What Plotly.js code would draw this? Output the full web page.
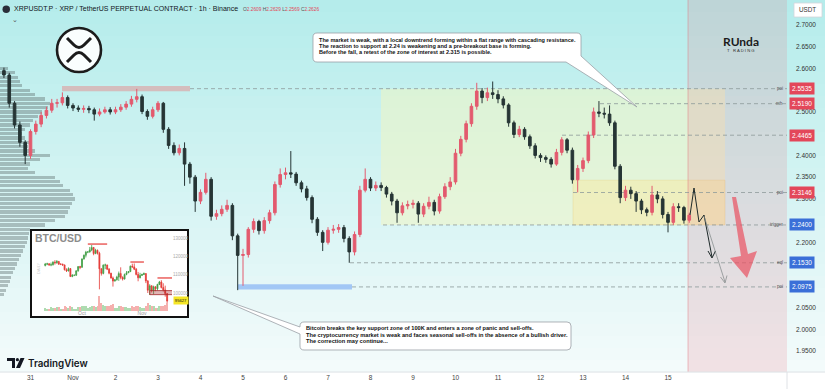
<!DOCTYPE html>
<html><head><meta charset="utf-8">
<script src="https://cdn.plot.ly/plotly-3.0.1.min.js"></script>
<style>html,body{margin:0;padding:0;background:#fff;overflow:hidden}#chart{width:825px;height:389px}</style>
</head><body><div id="chart"></div>
<script>
// ---------------- DATA ----------------
// XRPUSDT.P, 3-hour aggregation of the 1h chart, first candle 2025-10-30 09:00
const xrpStart = '2025-10-30T09:00:00Z';
const xrpStepHours = 3;
const xrpOpen = [2.595,2.585,2.520,2.470,2.430,2.400,2.455,2.472,2.492,2.504,
2.520,2.521,2.533,2.515,2.509,2.506,2.508,2.505,2.495,2.500,
2.505,2.500,2.505,2.511,2.518,2.529,2.535,2.501,2.490,2.505,
2.520,2.460,2.423,2.406,2.416,2.380,2.350,2.295,2.315,2.345,
2.260,2.266,2.276,2.285,2.215,2.170,2.172,2.230,2.248,2.227,
2.250,2.268,2.333,2.356,2.360,2.357,2.337,2.323,2.303,2.253,
2.223,2.200,2.228,2.230,2.234,2.209,2.178,2.218,2.320,2.345,
2.325,2.331,2.326,2.311,2.295,2.268,2.284,2.287,2.290,2.265,
2.283,2.292,2.272,2.305,2.328,2.339,2.405,2.437,2.473,2.513,
2.548,2.533,2.544,2.540,2.530,2.516,2.475,2.448,2.460,2.443,
2.422,2.400,2.395,2.391,2.380,2.407,2.436,2.412,2.344,2.370,
2.388,2.447,2.500,2.497,2.495,2.475,2.375,2.303,2.320,2.312,
2.295,2.275,2.269,2.309,2.300,2.264,2.246,2.282,2.280,2.251];
const xrpHigh = [2.602,2.590,2.525,2.478,2.435,2.460,2.480,2.500,2.512,2.530,
2.530,2.545,2.538,2.520,2.515,2.515,2.514,2.510,2.508,2.512,
2.511,2.512,2.518,2.525,2.537,2.553,2.540,2.506,2.512,2.525,
2.523,2.465,2.430,2.425,2.430,2.385,2.355,2.322,2.360,2.350,
2.275,2.285,2.298,2.290,2.220,2.185,2.235,2.255,2.252,2.258,
2.275,2.340,2.370,2.372,2.410,2.362,2.342,2.330,2.308,2.258,
2.228,2.235,2.240,2.242,2.240,2.214,2.225,2.330,2.370,2.350,
2.340,2.338,2.330,2.316,2.300,2.292,2.296,2.298,2.295,2.290,
2.305,2.298,2.312,2.336,2.350,2.415,2.445,2.480,2.520,2.567,
2.555,2.556,2.570,2.550,2.536,2.520,2.480,2.468,2.465,2.448,
2.428,2.405,2.400,2.396,2.415,2.442,2.440,2.418,2.378,2.395,
2.455,2.510,2.525,2.510,2.515,2.480,2.380,2.330,2.328,2.318,
2.300,2.280,2.330,2.318,2.306,2.270,2.290,2.290,2.284,2.268];
const xrpLow = [2.578,2.510,2.462,2.420,2.380,2.392,2.448,2.465,2.485,2.498,
2.510,2.515,2.508,2.502,2.500,2.498,2.497,2.480,2.490,2.496,
2.494,2.495,2.500,2.505,2.512,2.522,2.495,2.482,2.485,2.500,
2.452,2.415,2.400,2.400,2.330,2.335,2.270,2.288,2.310,2.250,
2.252,2.260,2.270,2.205,2.090,2.100,2.165,2.222,2.218,2.220,
2.243,2.262,2.326,2.345,2.348,2.330,2.315,2.296,2.244,2.215,
2.180,2.195,2.220,2.222,2.200,2.153,2.170,2.212,2.315,2.318,
2.318,2.318,2.303,2.285,2.245,2.262,2.276,2.278,2.245,2.258,
2.276,2.262,2.266,2.300,2.320,2.333,2.398,2.430,2.466,2.505,
2.520,2.525,2.530,2.520,2.508,2.466,2.440,2.442,2.436,2.415,
2.393,2.385,2.383,2.372,2.376,2.400,2.405,2.335,2.315,2.362,
2.382,2.440,2.488,2.485,2.468,2.368,2.290,2.295,2.300,2.270,
2.265,2.260,2.262,2.290,2.255,2.223,2.240,2.270,2.243,2.245];
const xrpClose = [2.585,2.520,2.470,2.430,2.400,2.455,2.472,2.492,2.504,2.520,
2.521,2.533,2.515,2.509,2.506,2.508,2.505,2.495,2.500,2.505,
2.500,2.505,2.511,2.518,2.529,2.535,2.501,2.490,2.505,2.520,
2.460,2.423,2.406,2.416,2.380,2.350,2.295,2.315,2.345,2.260,
2.266,2.276,2.285,2.215,2.170,2.172,2.230,2.248,2.227,2.250,
2.268,2.333,2.356,2.360,2.357,2.337,2.323,2.303,2.253,2.223,
2.200,2.228,2.230,2.234,2.209,2.178,2.218,2.320,2.345,2.325,
2.331,2.326,2.311,2.295,2.268,2.284,2.287,2.290,2.265,2.283,
2.292,2.272,2.305,2.328,2.339,2.405,2.437,2.473,2.513,2.548,
2.533,2.544,2.540,2.530,2.516,2.475,2.448,2.460,2.443,2.422,
2.400,2.395,2.391,2.380,2.407,2.436,2.412,2.344,2.370,2.388,
2.447,2.500,2.497,2.495,2.475,2.375,2.303,2.320,2.312,2.295,
2.275,2.269,2.309,2.300,2.264,2.246,2.282,2.280,2.251,2.2626];

// Volume profile (left side)
const vpPrice = [2.60,2.59,2.58,2.57,2.56,2.55,2.54,2.53,2.52,2.51,2.50,2.49,2.48,2.47,2.46,2.45,2.44,2.43,2.42,2.41,2.40,2.39,2.38,2.37,2.36,2.35,2.34,2.33,2.32,2.31,2.30,2.29,2.28,2.27,2.26,2.25,2.24,2.23,2.22,2.21,2.20,2.19,2.18,2.17,2.16,2.15,2.14,2.13,2.12,2.11,2.10,2.09,2.08];
const vpVolume = [8,15,18,20,22,30,35,45,50,48,42,38,33,30,25,22,25,30,28,35,50,40,30,28,35,55,60,63,70,73,75,72,70,68,65,55,45,30,29,28,27,25,23,21,19,17,15,13,11,10,8,6,4];

// Key levels
const levels = [2.5535, 2.5190, 2.4465, 2.3146, 2.2400, 2.1530, 2.0975];
const levelTags = ['poi', 'mh', '', 'poi', 'trigger', 'eql', 'poi'];
const greenZone = [2.2400, 2.5535];
const yellowZone = [2.2400, 2.3430];

// Axis labels (ticks hidden behind level tags in the reference are left out)
const priceTicks = [1.95,2.00,2.05,2.20,2.30,2.35,2.40,2.50,2.60,2.65,2.70];
const dayTicks = ['2025-10-31','2025-11-01','2025-11-02','2025-11-03','2025-11-04','2025-11-05','2025-11-06','2025-11-07','2025-11-08','2025-11-09','2025-11-10','2025-11-11','2025-11-12','2025-11-13','2025-11-14','2025-11-15'];
const dayLabels = ['31','Nov','2','3','4','5','6','7','8','9','10','11','12','13','14','15'];

// BTC/USD inset, daily, thousands of USD, from 2025-09-12
const btcStart = '2025-09-12T00:00:00Z';
const btcOpen = [115.0,115.8,115.9,115.3,115.4,116.8,116.5,117.2,115.7,115.7,115.3,112.7,112.0,113.3,109.0,109.7,109.7,112.1,114.4,
114.0,118.6,120.6,122.3,122.4,123.5,124.8,121.5,123.3,121.7,113.2,110.7,115.2,115.3,113.0,110.8,108.2,106.5,107.2,108.7,
110.6,108.5,107.6,110.1,111.0,111.7,114.6,114.2,113.0,110.1,108.3,109.6,110.1,110.6,106.6,101.5,103.9,101.3,103.4,102.3,
104.7,106.0,103.0,101.7,99.7];
const btcHigh = [116.4,116.5,116.3,116.6,117.3,117.9,118.0,117.5,116.2,116.0,115.5,113.5,114.0,113.6,110.3,110.0,112.3,114.6,114.8,
118.8,121.0,123.0,122.9,125.1,126.2,125.1,124.1,123.7,122.5,113.5,115.6,116.0,115.4,113.6,111.0,109.0,107.5,109.4,111.7,
114.0,109.1,110.6,112.0,111.9,115.0,116.0,116.1,113.6,111.5,111.0,110.5,111.2,110.8,107.0,104.8,104.2,104.0,103.6,105.0,
106.6,107.0,105.3,104.0,99.8];
const btcLow = [114.5,115.2,114.9,114.6,115.0,115.5,116.0,115.4,115.2,114.8,112.3,111.5,111.8,108.7,108.6,109.2,109.3,111.6,113.0,
113.9,118.2,119.4,121.7,122.0,122.8,120.6,121.2,121.0,102.0,109.5,110.2,113.0,112.5,110.2,107.8,103.5,106.3,106.8,106.6,
107.5,106.8,107.4,109.7,110.9,111.4,113.8,112.5,109.6,106.4,108.0,109.3,109.8,105.4,100.0,98.9,100.3,99.3,101.0,101.4,
104.3,102.5,100.8,98.0,94.6];
const btcClose = [115.8,115.9,115.3,115.4,116.8,116.5,117.2,115.7,115.7,115.3,112.7,112.0,113.3,109.0,109.7,109.7,112.1,114.4,114.0,
118.6,120.6,122.3,122.4,123.5,124.8,121.5,123.3,121.7,113.2,110.7,115.2,115.3,113.0,110.8,108.2,106.5,107.2,108.7,110.6,
108.5,107.6,110.1,111.0,111.7,114.6,114.2,113.0,110.1,108.3,109.6,110.1,110.6,106.6,101.5,103.9,101.3,103.4,102.3,104.7,
106.0,103.0,101.7,99.7,95.6];
const btcVolume = [1.5,1.2,1.0,1.8,1.6,1.7,1.8,1.9,1.1,1.0,2.4,1.8,1.7,2.5,2.0,1.2,1.1,1.9,2.0,2.6,
2.5,2.4,1.5,2.2,2.6,2.5,2.1,2.3,7.5,4.0,2.8,2.6,2.5,2.7,3.0,3.4,1.6,1.5,2.4,2.6,
2.2,2.2,1.8,1.3,1.4,2.4,2.1,2.3,2.6,2.0,1.3,1.4,2.7,3.9,3.2,2.7,2.6,1.4,1.5,2.5,
2.4,2.6,3.2,3.8];
const btcTicks = [90,100,110,120,130];
const btcTickText = ['90000','100000','110000','120000','130000'];
const btcMonthTicks = ['2025-10-01','2025-11-01'];
const btcMonthLabels = ['Oct','Nov'];
const btcLast = '95627';
const btcLines = [[126.7,'2025-10-04','2025-10-14'],[116.9,'2025-10-26','2025-11-02'],[108.2,'2025-11-09','2025-11-25']];
const btcZone = [99.1, 101.3, '2025-11-05'];

// ---------------- HELPERS ----------------
const W = 787, H = 372;                 // plot area in px
const px = x => x / W;
const py = y => 1 - y / H;
const fmt = ms => new Date(ms).toISOString().slice(0,19).replace('T',' ');
const mainDate = X => fmt(Date.UTC(2025,10,1) + (X - 73) / 42.5 * 864e5);
const insetDate = X => fmt(Date.UTC(2025,9,1) + (X - 82) / 1.935 * 864e5);
function P(d){ let i = 0; return d.replace(/-?\d+(\.\d+)?/g, m => { const v = +m; const r = (i % 2 === 0) ? v / W : 1 - v / H; i++; return r.toFixed(5); }); }

const xrpTimes = xrpClose.map((_, i) => fmt(Date.parse(xrpStart) + i * xrpStepHours * 3600e3));
const btcTimes = btcClose.map((_, i) => fmt(Date.parse(btcStart) + i * 864e5));
const btcVolColors = btcClose.map((c, i) => c >= btcOpen[i] ? 'rgba(76,175,80,0.45)' : 'rgba(229,57,53,0.4)');

// ---------------- TRACES ----------------
const traces = [
  { type:'bar', orientation:'h', x: vpVolume, y: vpPrice, xaxis:'x', yaxis:'y', width:0.0075,
    marker:{color:'rgba(90,105,105,0.40)', line:{width:0}}, hoverinfo:'skip' },
  { type:'candlestick', x: xrpTimes, open: xrpOpen, high: xrpHigh, low: xrpLow, close: xrpClose,
    xaxis:'x2', yaxis:'y', whiskerwidth:0,
    increasing:{line:{color:'#e35a6e', width:1}, fillcolor:'#e35a6e'},
    decreasing:{line:{color:'#263535', width:1}, fillcolor:'#263535'}, hoverinfo:'skip' },
  { type:'candlestick', x: btcTimes, open: btcOpen, high: btcHigh, low: btcLow, close: btcClose,
    xaxis:'x3', yaxis:'y3', whiskerwidth:0,
    increasing:{line:{color:'#43a047', width:0.8}, fillcolor:'#43a047'},
    decreasing:{line:{color:'#e53935', width:0.8}, fillcolor:'#e53935'}, hoverinfo:'skip' },
  { type:'bar', x: btcTimes, y: btcVolume, xaxis:'x3', yaxis:'y4', marker:{color: btcVolColors}, hoverinfo:'skip' }
];

// ---------------- SHAPES ----------------
const shapes = [];
const topC = [180,236,235], botC = [244,251,251];
const N = 31;
for (let k = 0; k < N; k++) {
  const t = (k + 0.5) / N;
  const c = topC.map((v, j) => Math.round(v + (botC[j] - v) * t));
  shapes.push({type:'rect', xref:'paper', yref:'paper', x0:0, x1:825/W, y0:py((k+1)*H/N + 0.5), y1:py(k*H/N),
    fillcolor:`rgb(${c[0]},${c[1]},${c[2]})`, line:{width:0}, layer:'below'});
}
// BTC inset background
shapes.push({type:'rect', xref:'paper', yref:'paper', x0:px(31), x1:px(188), y0:py(317), y1:py(230), fillcolor:'#ffffff', line:{color:'#111', width:2}, layer:'below'});
// zones
shapes.push({type:'rect', xref:'paper', yref:'y', x0:px(381), x1:px(725), y0:greenZone[0], y1:greenZone[1], fillcolor:'rgba(244,246,192,0.5)', line:{width:0}, layer:'below'});
shapes.push({type:'rect', xref:'paper', yref:'y', x0:px(573), x1:px(725), y0:yellowZone[0], y1:yellowZone[1], fillcolor:'rgba(255,228,140,0.35)', line:{color:'rgba(230,200,120,0.5)', width:0.6}, layer:'below'});
shapes.push({type:'rect', xref:'paper', yref:'paper', x0:px(688), x1:1, y0:0, y1:1, fillcolor:'rgba(235,110,125,0.18)', line:{width:0}, layer:'below'});
shapes.push({type:'line', xref:'paper', yref:'paper', x0:px(688), x1:px(688), y0:0, y1:1, line:{color:'rgba(225,110,120,0.45)', width:1}, layer:'below'});
// highlight bars
shapes.push({type:'rect', xref:'paper', yref:'y', x0:px(62), x1:px(190), y0:levels[0]-0.006, y1:levels[0]+0.006, fillcolor:'rgba(215,180,180,0.85)', line:{width:0}, layer:'below'});
shapes.push({type:'rect', xref:'paper', yref:'y', x0:px(238), x1:px(352), y0:levels[6]-0.006, y1:levels[6]+0.006, fillcolor:'rgba(150,190,245,0.85)', line:{width:0}, layer:'below'});
// dashed levels
const levelStartPx = [190, 600, 562, 573, 383, 350, 352];
levels.forEach((lv, i) => shapes.push({type:'line', xref:'paper', yref:'y', x0:px(levelStartPx[i]), x1:1, y0:lv, y1:lv,
  line:{color:'#8d9999', width:0.8, dash:'4px,3px'}, layer:'below'}));
// x-axis strip border
shapes.push({type:'line', xref:'paper', yref:'paper', x0:0, x1:825/W, y0:0, y1:0, line:{color:'#dfe2e6', width:1}, layer:'above'});
shapes.push({type:'line', xref:'paper', yref:'paper', x0:1, x1:1, y0:0, y1:py(389), line:{color:'#dfe2e6', width:1}, layer:'above'});
// inset BTC lines
btcLines.forEach(l => shapes.push({type:'line', xref:'x3', yref:'y3', x0:l[1], x1:l[2], y0:l[0], y1:l[0], line:{color:'#e53935', width:1.2}}));
shapes.push({type:'rect', xref:'x3', yref:'y3', x0:btcZone[2], x1:'2025-11-30', y0:btcZone[0], y1:btcZone[1], fillcolor:'rgba(170,40,40,0.35)', line:{color:'#a52a2a', width:0.8}});
// callouts
shapes.push({type:'path', xref:'paper', yref:'paper', layer:'above', fillcolor:'#ffffff', line:{color:'#9aa0a6', width:0.8},
  path:P('M317,33 L577,33 Q581,33 581,37 L581,56 L637,107 L566,62 L317,62 Q313,62 313,58 L313,37 Q313,33 317,33 Z')});
shapes.push({type:'path', xref:'paper', yref:'paper', layer:'above', fillcolor:'#ffffff', line:{color:'#9aa0a6', width:0.8},
  path:P('M304,322 L567,322 Q571,322 571,326 L571,346 Q571,350 567,350 L304,350 Q300,350 300,346 L300,334 L213,296 L300,327 L300,326 Q300,322 304,322 Z')});
// XRP logo
shapes.push({type:'circle', xref:'paper', yref:'paper', x0:px(57), x1:px(101), y0:py(72), y1:py(28), fillcolor:'rgba(255,255,255,0.92)', line:{color:'#1c1c1c', width:2.6}, layer:'above'});
shapes.push({type:'path', xref:'paper', yref:'paper', layer:'above', line:{color:'#1c1c1c', width:3},
  path:P('M67,38 L74,45 Q79,50 84,45 L91,38')});
shapes.push({type:'path', xref:'paper', yref:'paper', layer:'above', line:{color:'#1c1c1c', width:3},
  path:P('M67,62 L74,55 Q79,50 84,55 L91,62')});
// header icon
shapes.push({type:'circle', xref:'paper', yref:'paper', x0:px(2.5), x1:px(10), y0:py(13), y1:py(5.5), fillcolor:'#2a2e39', line:{width:0}, layer:'above'});
// TradingView logo icon
shapes.push({type:'path', xref:'paper', yref:'paper', layer:'above', fillcolor:'#131722', line:{width:0},
  path:P('M7,358 L15,358 L15,368 L12,368 L12,361 L7,361 Z')});
shapes.push({type:'circle', xref:'paper', yref:'paper', layer:'above', fillcolor:'#131722', line:{width:0},
  x0:px(15.8), x1:px(19), y0:py(361.3), y1:py(358)});
shapes.push({type:'path', xref:'paper', yref:'paper', layer:'above', fillcolor:'#131722', line:{width:0},
  path:P('M20.5,358 L24.5,358 L20,368 L16,368 Z')});
// projections
shapes.push({type:'path', xref:'paper', yref:'paper', layer:'above', line:{color:'#1e2a2a', width:1},
  path:P('M690,215 L694,188 L699,222 L704,215 L712,257')});
shapes.push({type:'path', xref:'paper', yref:'paper', layer:'above', line:{color:'#1e2a2a', width:1},
  path:P('M708,251 L712,258 L715.5,251')});
shapes.push({type:'path', xref:'paper', yref:'paper', layer:'above', line:{color:'#7d8585', width:0.7},
  path:P('M704,216 L725,282')});
shapes.push({type:'path', xref:'paper', yref:'paper', layer:'above', line:{color:'#7d8585', width:0.7},
  path:P('M720.5,277 L725,283 L727,275.5')});
// big red arrow
shapes.push({type:'path', xref:'paper', yref:'paper', layer:'above', fillcolor:'rgba(233,85,100,0.72)', line:{width:0},
  path:P('M732,197 L736,197 L748,254 L757,251 L747,278 L730,258 L741,256 Z')});
// USDT box
shapes.push({type:'rect', xref:'paper', yref:'paper', x0:px(794), x1:px(822), y0:py(17), y1:py(3), fillcolor:'#ffffff', line:{color:'#d3d6da', width:0.8}, layer:'above'});

// ---------------- ANNOTATIONS ----------------
const ann = [];
const txt = (x, y, text, size, color, extra) => Object.assign({xref:'paper', yref:'paper', x:px(x), y:py(y), text, showarrow:false,
  xanchor:'left', yanchor:'middle', font:{size, color, family:'Liberation Sans'}}, extra || {});
ann.push(txt(12, 9, 'XRPUSDT.P · XRP / TetherUS PERPETUAL CONTRACT · 1h · Binance', 7.0, '#131722'));
const red = s => `<span style="color:#e0485a">${s}</span>`;
ann.push(txt(241, 9.5, `O${red('2.2609')} H${red('2.2629')} L${red('2.2569')} C${red('2.2626')}`, 4.8, '#555'));
ann.push(txt(10, 20, '⌄', 7, '#555'));
// callout text
const calloutFont = size => ({size, color:'#111', family:'Liberation Sans', weight:700});
['The market is weak, with a local downtrend forming within a flat range with cascading resistance.',
 'The reaction to support at 2.24 is weakening and a pre-breakout base is forming.',
 'Before the fall, a retest of the zone of interest at 2.315 is possible.'].forEach((s, i) => ann.push(txt(317, 39.5 + i*6.3, s, 5.55, '#111', {font:calloutFont(5.55)})));
['Bitcoin breaks the key support zone of 100K and enters a zone of panic and sell-offs.',
 'The cryptocurrency market is weak and faces seasonal sell-offs in the absence of a bullish driver.',
 'The correction may continue...'].forEach((s, i) => ann.push(txt(304, 328 + i*6.6, s, 5.65, '#111', {font:calloutFont(5.65)})));
// right-axis level tags
levels.forEach((lv, i) => {
  ann.push({xref:'paper', yref:'y', x:px(789), y:lv, xanchor:'left', yanchor:'middle', showarrow:false,
    text: lv.toFixed(4), font:{size:6.5, color:'#ffffff', family:'Liberation Sans'},
    bgcolor: i < 4 ? '#e3475a' : '#3a6fd8', borderpad:2});
  if (levelTags[i]) ann.push({xref:'paper', yref:'y', x:px(785), y:lv, xanchor:'right', yanchor:'middle', showarrow:false,
    text: levelTags[i], font:{size:4.5, color:'#555', family:'Liberation Sans'}});
});
ann.push(txt(808, 10, 'USDT', 6.3, '#333', {xanchor:'center'}));
// brand
ann.push(txt(741, 41, '<b>RUnda</b>', 12, '#1b1b1b', {xanchor:'center', font:{size:12, color:'#1b1b1b', family:'Lato'}}));
ann.push(txt(741, 51, 'T   R A D I N G', 4.2, '#333', {xanchor:'center'}));
ann.push(txt(26, 363, 'TradingView', 9.8, '#131722', {font:{size:9.8, color:'#131722', family:'Inter', weight:600}}));
// inset labels
ann.push(txt(33, 238, '<b>BTC/USD</b>', 10.5, '#8c8c8c', {font:{size:10.5, color:'#8c8c8c', family:'Liberation Sans'}}));
ann.push(txt(38, 268, 'DAILY', 4, '#d0d0d0', {xanchor:'center', textangle:-90}));
ann.push(txt(180.5, 300.5, btcLast, 4.2, '#111', {xanchor:'center', bgcolor:'#f5e625', borderpad:0.8}));

// ---------------- LAYOUT ----------------
const layout = {
  width:825, height:389, margin:{l:0, r:38, t:0, b:17},
  paper_bgcolor:'#ffffff', plot_bgcolor:'rgba(0,0,0,0)',
  font:{family:'Liberation Sans', color:'#333'},
  showlegend:false, hovermode:false, bargap:0,
  xaxis:{range:[0, W], visible:false, fixedrange:true},
  xaxis2:{type:'date', overlaying:'x', anchor:'y', side:'bottom', range:[mainDate(0), mainDate(W)],
    tickvals: dayTicks, ticktext: dayLabels, tickfont:{size:6.5, color:'#444'}, ticks:'', showgrid:false,
    zeroline:false, showline:false, rangeslider:{visible:false}, fixedrange:true},
  yaxis:{range:[1.90175, 2.75751], side:'right', tickvals: priceTicks, ticktext: priceTicks.map(v => v.toFixed(4)),
    tickfont:{size:6.5, color:'#333'}, ticks:'', ticklabelstandoff:8, showgrid:false, zeroline:false, showline:false, fixedrange:true},
  xaxis3:{type:'date', domain:[px(36), px(172)], anchor:'y3', range:[insetDate(36), insetDate(172)],
    tickvals: btcMonthTicks, ticktext: btcMonthLabels, tickfont:{size:5, color:'#999'}, ticks:'', showgrid:false,
    zeroline:false, showline:false, rangeslider:{visible:false}, fixedrange:true},
  yaxis3:{domain:[py(309), py(233)], anchor:'x3', side:'right', range:[91.27, 132.73], tickvals: btcTicks, ticktext: btcTickText,
    tickfont:{size:4.5, color:'#aaa'}, ticks:'', showgrid:false, zeroline:false, showline:false, fixedrange:true},
  yaxis4:{domain:[py(311), py(293)], anchor:'x3', range:[0, 9], visible:false, fixedrange:true},
  shapes, annotations: ann
};
Plotly.newPlot('chart', traces, layout, {staticPlot:true, displayModeBar:false});
</script></body></html>
